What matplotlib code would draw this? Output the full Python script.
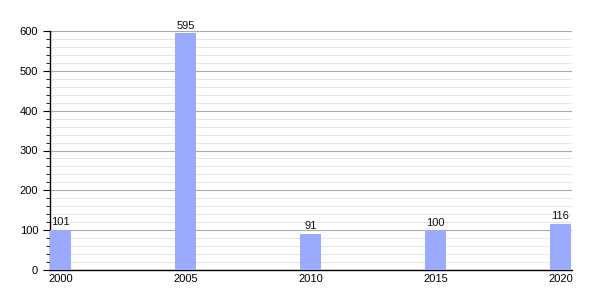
import matplotlib
matplotlib.use("Agg")
import matplotlib.pyplot as plt
from matplotlib.ticker import MultipleLocator

years = [2000, 2005, 2010, 2015, 2020]
values = [101, 595, 91, 100, 116]
tick_labels = ["2000", "2005", "2010", "2015", "2020"]

plt.rcParams["font.family"] = ["Liberation Sans", "DejaVu Sans"]

fig = plt.figure(figsize=(6, 3), dpi=100)
ax = fig.add_axes([50/600, 30/300, 522/600, 239/300])

ax.bar(years, values, width=0.84, color="#99aaff", zorder=3)
for x, v in zip(years, values):
    ax.text(x, v + 6, str(v), ha="center", va="bottom", fontsize=8, color="#111111", zorder=4)

ax.set_xlim(1999.58, 2020.46)
ax.set_ylim(0, 600)
ax.yaxis.set_major_locator(MultipleLocator(100))
ax.yaxis.set_minor_locator(MultipleLocator(20))
ax.grid(which="major", axis="y", color="#aaaaaa", linewidth=0.8, zorder=1)
ax.grid(which="minor", axis="y", color="#e6e6e6", linewidth=0.8, zorder=0)
ax.set_xticks(years)
ax.set_xticklabels(tick_labels)
ax.tick_params(axis="x", length=0, labelsize=8, pad=3)
ax.tick_params(axis="y", which="major", length=5, labelsize=8, direction="out")
ax.tick_params(axis="y", which="minor", length=3, direction="out")
for s in ["top", "right"]:
    ax.spines[s].set_visible(False)
ax.spines["left"].set_linewidth(1)
ax.spines["bottom"].set_linewidth(1)
ax.set_axisbelow(True)

fig.savefig("out.png", dpi=100)
